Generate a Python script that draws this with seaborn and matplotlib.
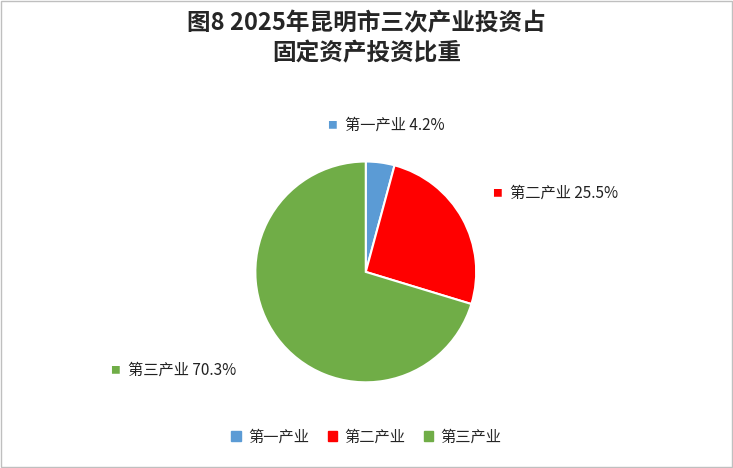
import matplotlib
matplotlib.use("Agg")
import matplotlib.pyplot as plt
import seaborn as sns
from matplotlib.patches import Rectangle

sns.set_theme(style="white")
plt.rcParams['font.family'] = ['Noto Sans CJK SC', 'DejaVu Sans']

categories = ["第一产业", "第二产业", "第三产业"]
values = [4.2, 25.5, 70.3]
colors = ["#5B9BD5", "#FF0000", "#70AD47"]
title = "图8 2025年昆明市三次产业投资占\n固定资产投资比重"

fig = plt.figure(figsize=(7.33, 4.68), dpi=100)
fig.patches.append(Rectangle((0.002, 0.002), 0.996, 0.996, transform=fig.transFigure,
                             fill=False, edgecolor="#BFBFBF", linewidth=1))
ax = fig.add_axes([0.499 - 0.1883, 0.419 - 0.2949, 0.3766, 0.5898])
ax.pie(values, colors=colors, startangle=90, counterclock=False,
       wedgeprops=dict(edgecolor="white", linewidth=1.5))
ax.set_aspect("equal")

fig.suptitle(title, fontsize=17, fontweight="bold", y=0.975, linespacing=1.3)

label_pos = [(345, 125), (510, 193), (128, 370)]
for (x, y), c, cat, v in zip(label_pos, colors, categories, values):
    fig.text((x - 18) / 733, 1 - y / 468, "■", color=c, fontsize=7, va="center")
    fig.text(x / 733, 1 - y / 468, f"{cat} {v}%", fontsize=11, va="center", color="#222222")

handles = [Rectangle((0, 0), 1, 1, color=c) for c in colors]
fig.legend(handles, categories, loc="center", bbox_to_anchor=(0.5, 1 - 437 / 468),
           ncol=3, frameon=False, fontsize=11, handlelength=0.6, handleheight=0.6,
           columnspacing=1.2, handletextpad=0.5)

fig.savefig("out.png", dpi=100)
